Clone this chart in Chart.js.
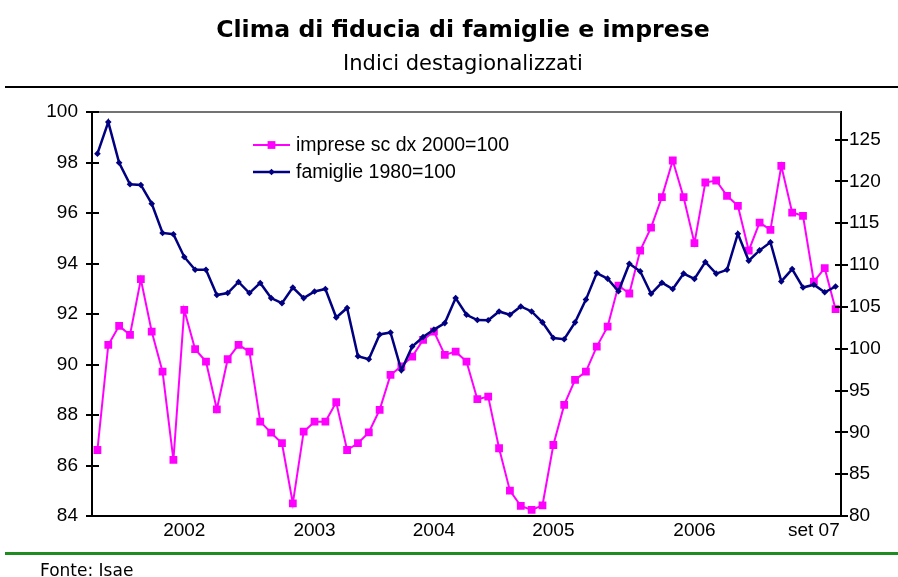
<!DOCTYPE html>
<html>
<head>
<meta charset="utf-8">
<script src="https://cdn.jsdelivr.net/npm/chart.js@4.4.1/dist/chart.umd.min.js"></script>
<style>
  html, body { margin: 0; padding: 0; background: #fff; }
  #wrap { position: relative; width: 898px; height: 577px; overflow: hidden; }
  #chart { position: absolute; left: 0; top: 0; }
  .txt { position: absolute; color: #000; white-space: nowrap; }
  #title { left: 463px; top: 15px; transform: translateX(-50%); font: bold 23.6px "DejaVu Sans"; line-height: 28px; }
  #subtitle { left: 463px; top: 51px; transform: translateX(-50%); font: 21px "DejaVu Sans"; line-height: 24px; }
  #rule { position: absolute; left: 5px; right: 0; top: 86px; height: 2px; background: #000; }
  #green { position: absolute; left: 5px; right: 0; top: 552px; height: 3px; background: #1e8c1e; }
  #source { left: 40px; top: 560px; font: 17px "DejaVu Sans"; line-height: 20px; }
</style>
</head>
<body>
<div id="wrap">
  <canvas id="chart" width="898" height="577"></canvas>
  <div class="txt" id="title">Clima di fiducia di famiglie e imprese</div>
  <div class="txt" id="subtitle">Indici destagionalizzati</div>
  <div id="rule"></div>
  <div id="green"></div>
  <div class="txt" id="source">Fonte: Isae</div>
</div>
<script>
// monthly values
const famiglie = [
  98.35, 99.6, 97.99, 97.14, 97.11, 96.37, 95.21, 95.16, 94.26, 93.75,
  93.75, 92.75, 92.83, 93.27, 92.83, 93.23, 92.63, 92.43, 93.05, 92.63,
  92.89, 92.99, 91.86, 92.24, 90.33, 90.21, 91.19, 91.27, 89.77, 90.71,
  91.09, 91.38, 91.64, 92.63, 91.97, 91.76, 91.75, 92.1, 91.97, 92.3,
  92.1, 91.67, 91.05, 91.0, 91.67, 92.57, 93.62, 93.4, 92.9, 93.99,
  93.69, 92.8, 93.24, 92.99, 93.6, 93.39, 94.06, 93.6, 93.75, 95.18,
  94.11, 94.52, 94.84, 93.29, 93.78, 93.05, 93.16, 92.86, 93.09
];
const imprese = [
  87.89, 100.45, 102.73, 101.65, 108.31, 102.05, 97.26, 86.7, 104.64, 99.94,
  98.46, 92.76, 98.74, 100.45, 99.65, 91.28, 89.96, 88.7, 81.52, 90.08,
  91.28, 91.28, 93.6, 87.89, 88.7, 90.0, 92.7, 96.87, 97.9, 99.06,
  101.05, 102.05, 99.26, 99.65, 98.46, 93.96, 94.27, 88.1, 83.03, 81.2,
  80.72, 81.28, 88.49, 93.28, 96.27, 97.26, 100.25, 102.64, 107.55, 106.6,
  111.73, 114.47, 118.12, 122.5, 118.12, 112.62, 119.87, 120.11, 118.28, 117.08,
  111.73, 115.08, 114.21, 121.87, 116.28, 115.89, 108.03, 109.63, 104.73
];
const seriesNames = ['imprese sc dx 2000=100', 'famiglie 1980=100'];

// x axis: which month carries a label, and its text
const tickIndex = [8, 20, 31, 42, 55, 66];
const tickText = ['2002', '2003', '2004', '2005', '2006', 'set 07'];

const xLabels = famiglie.map(() => '');
tickIndex.forEach((idx, k) => { xLabels[idx] = tickText[k]; });

const axisFont = { family: '"Liberation Sans", Arial', size: 19 };

// small crossing tick marks on both vertical axes plus the thin top frame
const frameTicks = {
  id: 'frameTicks',
  afterDraw(chart) {
    const c = chart.ctx;
    const area = chart.chartArea;
    c.save();
    c.strokeStyle = '#444';
    c.lineWidth = 1.5;
    c.beginPath();
    c.moveTo(area.left, area.top);
    c.lineTo(area.right, area.top);
    c.stroke();
    c.strokeStyle = '#000';
    c.lineWidth = 2;
    ['yLeft', 'yRight'].forEach(id => {
      const s = chart.scales[id];
      const x0 = id === 'yLeft' ? area.left : area.right;
      s.ticks.forEach(t => {
        const y = Math.round(s.getPixelForValue(t.value));
        c.beginPath();
        c.moveTo(x0 - 6, y);
        c.lineTo(x0 + 7, y);
        c.stroke();
      });
    });
    c.restore();
  }
};

// legend drawn inside the plot, top-left
const insideLegend = {
  id: 'insideLegend',
  afterDatasetsDraw(chart) {
    const c = chart.ctx;
    const x = 253;
    chart.data.datasets.forEach((ds, i) => {
      const y = 145 + i * 27;
      c.save();
      c.strokeStyle = ds.borderColor;
      c.lineWidth = ds.borderWidth;
      c.beginPath();
      c.moveTo(x, y);
      c.lineTo(x + 37, y);
      c.stroke();
      c.fillStyle = ds.backgroundColor;
      Chart.helpers.drawPoint(c, { pointStyle: ds.pointStyle, radius: ds.pointRadius, borderWidth: 0 }, x + 18.5, y);
      c.fillStyle = '#000';
      c.font = '19.5px "Liberation Sans", Arial';
      c.textBaseline = 'middle';
      c.fillText(ds.label, x + 43, y + 1);
      c.restore();
    });
  }
};

new Chart(document.getElementById('chart').getContext('2d'), {
  type: 'line',
  data: {
    labels: xLabels,
    datasets: [
      {
        label: seriesNames[0],
        data: imprese,
        yAxisID: 'yRight',
        borderColor: '#ff00ff',
        backgroundColor: '#ff00ff',
        borderWidth: 2,
        pointStyle: 'rect',
        pointRadius: 5.5,
        pointBorderWidth: 0,
        tension: 0,
        order: 1
      },
      {
        label: seriesNames[1],
        data: famiglie,
        yAxisID: 'yLeft',
        borderColor: '#000080',
        backgroundColor: '#000080',
        borderWidth: 2.5,
        pointStyle: 'rectRot',
        pointRadius: 3.3,
        pointBorderWidth: 0,
        tension: 0,
        order: 0
      }
    ]
  },
  options: {
    responsive: false,
    animation: false,
    layout: { padding: { top: 112 } },
    plugins: {
      legend: { display: false },
      tooltip: { enabled: false }
    },
    scales: {
      x: {
        offset: true,
        grid: { display: false, drawTicks: false },
        border: { display: true, color: '#000', width: 2 },
        ticks: { autoSkip: false, maxRotation: 0, padding: 3, color: '#000', font: axisFont },
        afterFit: s => { s.height = 61; }
      },
      yLeft: {
        position: 'left',
        min: 84,
        max: 100,
        grid: { display: false, drawTicks: false },
        border: { display: true, color: '#000', width: 2 },
        ticks: { stepSize: 2, padding: 14, color: '#000', font: axisFont },
        afterFit: s => { s.width = 92; }
      },
      yRight: {
        position: 'right',
        min: 80,
        max: 128.3,
        grid: { display: false, drawTicks: false },
        border: { display: true, color: '#000', width: 2 },
        ticks: { stepSize: 5, includeBounds: false, padding: 8, color: '#000', font: axisFont },
        afterFit: s => { s.width = 57; }
      }
    }
  },
  plugins: [frameTicks, insideLegend]
});
</script>
</body>
</html>
